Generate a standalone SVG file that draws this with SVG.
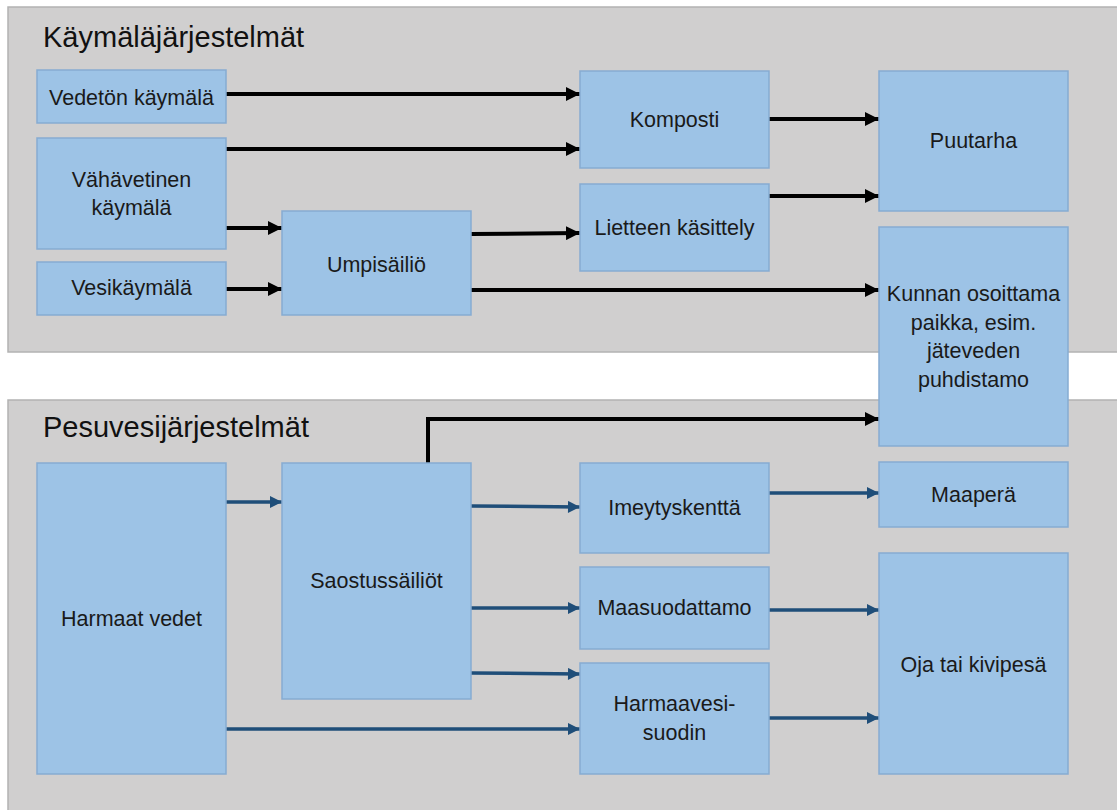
<svg xmlns="http://www.w3.org/2000/svg" width="1117" height="810" viewBox="0 0 1117 810">
<defs>
<style>
.panel{fill:#d0cfcf;stroke:#b3b3b3;stroke-width:1.5}
.box{fill:#9dc3e6;stroke:#86acd2;stroke-width:1.5}
.lbl{font-family:"Liberation Sans",Arial,sans-serif;font-size:21.5px;fill:#1a1a1a;text-anchor:middle}
.ttl{font-family:"Liberation Sans",Arial,sans-serif;font-size:29px;fill:#111}
.blk{fill:none;stroke:#000;stroke-width:4;marker-end:url(#ak)}
.blu{fill:none;stroke:#1f4e79;stroke-width:3.5;marker-end:url(#ab)}
</style>
<marker id="ak" viewBox="0 0 10 10" refX="10" refY="5" markerUnits="userSpaceOnUse" markerWidth="14" markerHeight="14" orient="auto"><path d="M0,0 L10,5 L0,10 z" fill="#000"/></marker>
<marker id="ab" viewBox="0 0 10 10" refX="10" refY="5" markerUnits="userSpaceOnUse" markerWidth="13" markerHeight="12" orient="auto"><path d="M0,0 L10,5 L0,10 z" fill="#1f4e79"/></marker>
</defs>
<rect width="1117" height="810" fill="#ffffff"/>
<g id="panel-kaymala">
<rect class="panel" x="8" y="7" width="1115" height="345"/>
<text class="ttl" x="43" y="47">Käymäläjärjestelmät</text>
</g>
<g id="panel-pesuvesi">
<rect class="panel" x="8" y="400" width="1115" height="416"/>
<text class="ttl" x="43" y="437">Pesuvesijärjestelmät</text>
</g>
<g id="connectors">
<path class="blk" d="M226,94 H580"/>
<path class="blk" d="M226,149 H580"/>
<path class="blk" d="M226,228 H282"/>
<path class="blk" d="M226,289 H282"/>
<path class="blk" d="M471,234 L580,233"/>
<path class="blk" d="M471,290 H879"/>
<path class="blk" d="M769,119 H879"/>
<path class="blk" d="M769,196 H879"/>
<path class="blk" d="M428,463 V419 H879"/>
<path class="blu" d="M226,502 H282"/>
<path class="blu" d="M471,506 L580,507"/>
<path class="blu" d="M471,608 H580"/>
<path class="blu" d="M471,673 L580,674"/>
<path class="blu" d="M226,729 H580"/>
<path class="blu" d="M769,493 H879"/>
<path class="blu" d="M769,610 H879"/>
<path class="blu" d="M769,718 H879"/>
</g>
<g id="n-vedeton"><rect class="box" x="37" y="70" width="189" height="53"/><text class="lbl" x="131.5" y="105">Vedetön käymälä</text></g>
<g id="n-vahavetinen"><rect class="box" x="37" y="138" width="189" height="111"/><text class="lbl" x="131.5" y="187">Vähävetinen</text><text class="lbl" x="131.5" y="215">käymälä</text></g>
<g id="n-vesikaymala"><rect class="box" x="37" y="262" width="189" height="53"/><text class="lbl" x="131.5" y="295">Vesikäymälä</text></g>
<g id="n-umpisailio"><rect class="box" x="282" y="211" width="189" height="104"/><text class="lbl" x="376.5" y="272">Umpisäiliö</text></g>
<g id="n-komposti"><rect class="box" x="580" y="71" width="189" height="97"/><text class="lbl" x="674.5" y="127">Komposti</text></g>
<g id="n-lietteen"><rect class="box" x="580" y="184" width="189" height="87"/><text class="lbl" x="674.5" y="235">Lietteen käsittely</text></g>
<g id="n-puutarha"><rect class="box" x="879" y="71" width="189" height="140"/><text class="lbl" x="973.5" y="148">Puutarha</text></g>
<g id="n-kunnan"><rect class="box" x="879" y="227" width="189" height="219"/><text class="lbl" x="973.5" y="301">Kunnan osoittama</text><text class="lbl" x="973.5" y="330">paikka, esim.</text><text class="lbl" x="973.5" y="358">jäteveden</text><text class="lbl" x="973.5" y="387">puhdistamo</text></g>
<g id="n-harmaat"><rect class="box" x="37" y="463" width="189" height="311"/><text class="lbl" x="131.5" y="626">Harmaat vedet</text></g>
<g id="n-saostus"><rect class="box" x="282" y="463" width="189" height="236"/><text class="lbl" x="376.5" y="588">Saostussäiliöt</text></g>
<g id="n-imeytys"><rect class="box" x="580" y="463" width="189" height="90"/><text class="lbl" x="674.5" y="515">Imeytyskenttä</text></g>
<g id="n-maasuodattamo"><rect class="box" x="580" y="567" width="189" height="82"/><text class="lbl" x="674.5" y="615">Maasuodattamo</text></g>
<g id="n-harmaavesi"><rect class="box" x="580" y="663" width="189" height="111"/><text class="lbl" x="674.5" y="711">Harmaavesi-</text><text class="lbl" x="674.5" y="740">suodin</text></g>
<g id="n-maapera"><rect class="box" x="879" y="462" width="189" height="65"/><text class="lbl" x="973.5" y="502">Maaperä</text></g>
<g id="n-oja"><rect class="box" x="879" y="553" width="189" height="221"/><text class="lbl" x="973.5" y="672">Oja tai kivipesä</text></g>
</svg>
